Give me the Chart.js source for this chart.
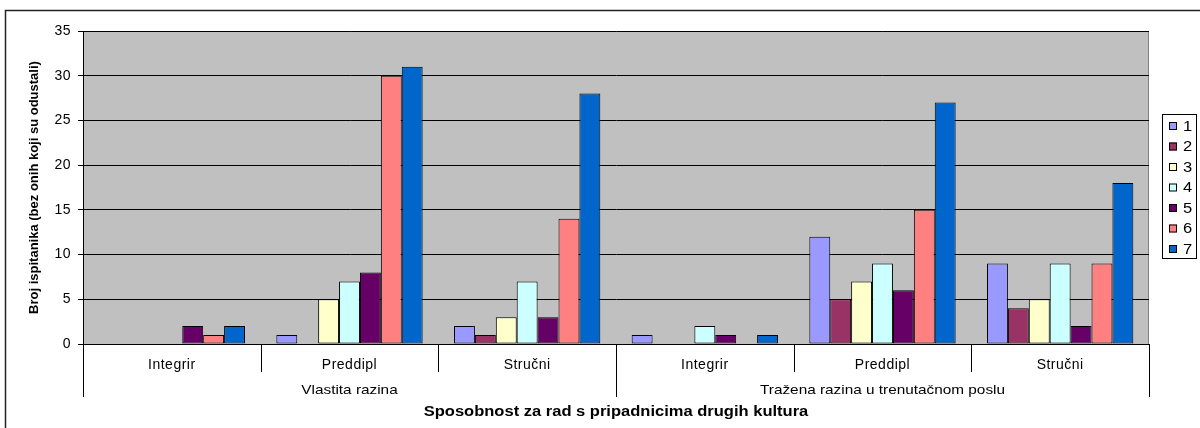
<!DOCTYPE html>
<html>
<head>
<meta charset="utf-8">
<script src="https://cdn.jsdelivr.net/npm/chart.js@4"></script>
<style>
  html, body { margin: 0; padding: 0; background: #fff; }
  #wrap { width: 1200px; height: 428px; }
</style>
</head>
<body>
<div id="wrap"><canvas id="chart" width="1200" height="428"></canvas></div>
<script>
// subcategories and the two groups they belong to
const categories = ['Integrir', 'Preddipl', 'Stručni', 'Integrir', 'Preddipl', 'Stručni'];
const groups = ['Vlastita razina', 'Tražena razina u trenutačnom poslu'];
const groupSize = 3;

const seriesNames = ['1', '2', '3', '4', '5', '6', '7'];
const s1 = [0, 1, 2, 1, 12, 9];
const s2 = [0, 0, 1, 0, 5, 4];
const s3 = [0, 5, 3, 0, 7, 5];
const s4 = [0, 7, 7, 2, 9, 9];
const s5 = [2, 8, 3, 1, 6, 2];
const s6 = [1, 30, 14, 0, 15, 9];
const s7 = [2, 31, 28, 1, 27, 18];
const seriesColors = ['#9999FF', '#993366', '#FFFFCC', '#CCFFFF', '#660066', '#FF8080', '#0066CC'];

const yTitle = 'Broj ispitanika (bez onih koji su odustali)';
const xTitle = 'Sposobnost za rad s pripadnicima drugih kultura';

const FONT = 'Arial, "Liberation Sans", sans-serif';
const STRETCH = 1.18; // the original text is a bit wide
const ctx = document.getElementById('chart').getContext('2d');

const allSeries = [s1, s2, s3, s4, s5, s6, s7];
const datasets = allSeries.map((vals, i) => ({
    label: seriesNames[i],
    data: vals,
    backgroundColor: seriesColors[i],
    borderColor: '#000',
    borderWidth: c => (c.raw ? 1 : 0),
    borderSkipped: false
}));

function wideText(c, text, x, y) {
    c.save();
    c.translate(x, y);
    c.scale(STRETCH, 1);
    c.fillText(text, 0, 0);
    c.restore();
}

// frame, plot background, multi-level axis, titles and legend, drawn by hand
const excelLook = {
    id: 'excelLook',
    beforeDraw(chart) {
        const c = chart.ctx;
        const a = chart.chartArea;
        c.fillStyle = '#fff';
        c.fillRect(0, 0, chart.width, chart.height);
        c.save();
        c.strokeStyle = '#222';
        c.lineWidth = 1.5;
        c.strokeRect(5.5, 10.5, 1300, 500);
        c.fillStyle = '#C0C0C0';
        c.fillRect(a.left, a.top, a.right - a.left, a.bottom - a.top);
        c.strokeStyle = '#808080';
        c.lineWidth = 1;
        c.beginPath();
        c.moveTo(a.left, a.top + 0.5);
        c.lineTo(a.right - 0.5, a.top + 0.5);
        c.lineTo(a.right - 0.5, a.bottom);
        c.stroke();
        c.restore();
        // widen the tick labels drawn by the scales
        c.letterSpacing = '0.5px';
    },
    afterDraw(chart) {
        const c = chart.ctx;
        const a = chart.chartArea;
        const x = chart.scales.x;
        const step = (a.right - a.left) / categories.length;
        c.letterSpacing = '0px';
        c.save();
        c.strokeStyle = '#000';
        c.lineWidth = 1;
        for (let i = 0; i <= categories.length; i++) {
            const px = Math.round(a.left + i * step) + 0.5;
            const bottom = i % groupSize === 0 ? a.bottom + 53 : a.bottom + 28;
            c.beginPath();
            c.moveTo(px, a.bottom);
            c.lineTo(px, bottom);
            c.stroke();
        }
        c.fillStyle = '#000';
        c.font = '13px ' + FONT;
        c.textAlign = 'center';
        c.textBaseline = 'middle';
        groups.forEach((g, gi) => {
            const cx = (x.getPixelForValue(gi * groupSize) + x.getPixelForValue(gi * groupSize + groupSize - 1)) / 2;
            wideText(c, g, cx, a.bottom + 46);
        });
        c.font = 'bold 14px ' + FONT;
        wideText(c, xTitle, (a.left + a.right) / 2, a.bottom + 68);

        // y axis title
        c.save();
        c.translate(34, (a.top + a.bottom) / 2);
        c.rotate(-Math.PI / 2);
        c.font = 'bold 13px ' + FONT;
        c.fillText(yTitle, 0, 0);
        c.restore();

        // legend
        const lx = 1162, ly = 114, lw = 34, lh = 144;
        c.strokeStyle = '#000';
        c.strokeRect(lx + 0.5, ly + 0.5, lw, lh);
        c.font = '14px ' + FONT;
        c.textAlign = 'left';
        seriesNames.forEach((n, i) => {
            const cy = ly + 12 + i * 20.5;
            c.fillStyle = seriesColors[i];
            c.fillRect(1169, cy - 4, 8, 8);
            c.strokeRect(1169.5, cy - 3.5, 7, 7);
            c.fillStyle = '#000';
            wideText(c, n, 1183, cy + 1);
        });
        c.restore();
    }
};

new Chart(ctx, {
    type: 'bar',
    data: { labels: categories, datasets: datasets },
    plugins: [excelLook],
    options: {
        responsive: false,
        animation: false,
        events: [],
        layout: { padding: { top: 31, right: 51, bottom: 0, left: 0 } },
        datasets: { bar: { categoryPercentage: 0.8235, barPercentage: 1 } },
        plugins: { legend: { display: false }, tooltip: { enabled: false } },
        scales: {
            x: {
                grid: { display: false, drawTicks: false },
                border: { display: true, color: '#000', width: 1 },
                ticks: { color: '#000', font: { family: FONT, size: 14 }, padding: 13, maxRotation: 0 },
                afterFit(s) { s.height = 84; }
            },
            y: {
                min: 0,
                max: 35,
                ticks: { stepSize: 5, color: '#000', font: { family: FONT, size: 14 }, padding: 7 },
                grid: { color: '#000', lineWidth: 1, tickLength: 5, drawOnChartArea: true },
                border: { display: true, color: '#000', width: 1 },
                title: { display: false, text: yTitle },
                afterFit(s) { s.width = 83; }
            }
        }
    }
});
</script>
</body>
</html>
